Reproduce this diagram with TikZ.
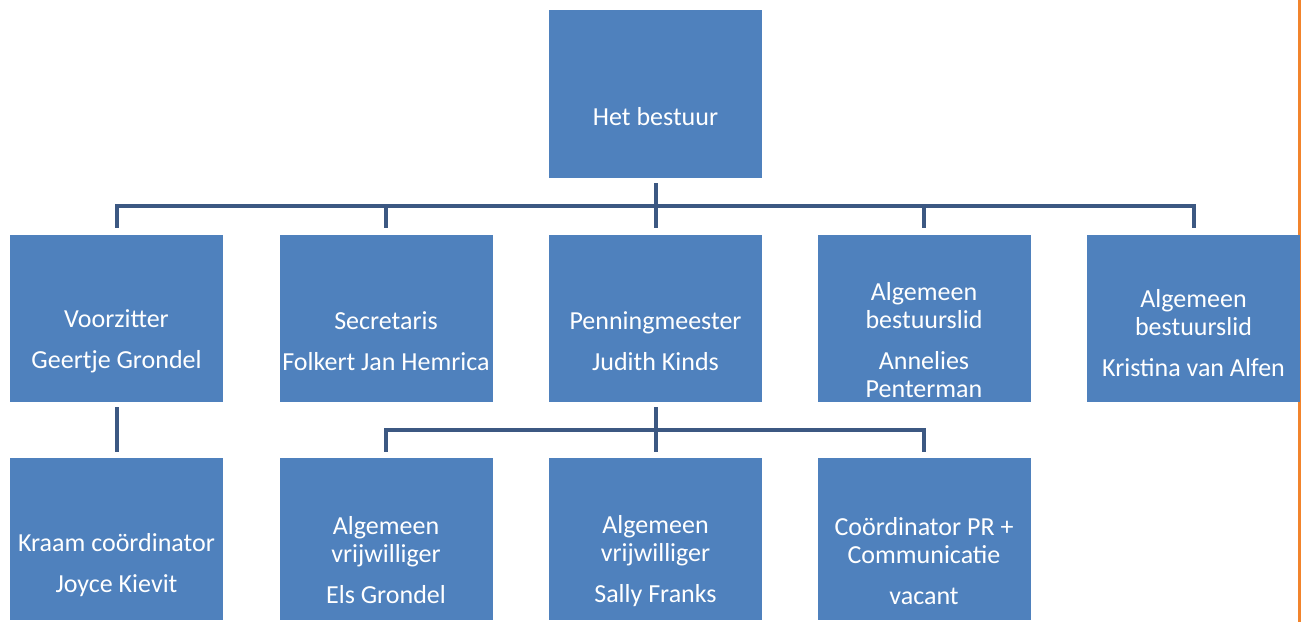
\documentclass[tikz,border=0pt]{standalone}
\usepackage{fontspec}
\setmainfont{Carlito}
\usetikzlibrary{calc}
\definecolor{boxblue}{RGB}{79,129,189}
\definecolor{linkblue}{RGB}{60,88,130}
\definecolor{edgeorange}{RGB}{242,132,44}
\begin{document}
\begin{tikzpicture}[x=1pt,y=-1pt,
  orgbox/.style={fill=boxblue, draw=none, inner sep=0pt, minimum width=213pt, minimum height=167pt},
  orgtext/.style={text=white, align=center, inner sep=0pt, font=\fontsize{26}{28}\selectfont},
  conn/.style={draw=linkblue, line width=4pt, line join=miter},
  rim/.style={draw=edgeorange, line width=3pt}]
\useasboundingbox (0,0) rectangle (1307,622);
% orange rim at the right edge
\coordinate (rimtop) at (1299.5,0);
\coordinate (rimbot) at (1299.5,622);
\draw[rim] (rimtop) -- (rimbot);

% boxes
\node[orgbox, minimum height=168pt] (top) at (655.5,94) {};
\node[orgbox] (b1) at (116.5,318.5) {};
\node[orgbox] (b2) at (386,318.5) {};
\node[orgbox] (b3) at (655.5,318.5) {};
\node[orgbox] (b4) at (924,318.5) {};
\node[orgbox] (b5) at (1193.5,318.5) {};
\node[orgbox, minimum height=162pt] (c1) at (116.5,539) {};
\node[orgbox, minimum height=162pt] (c2) at (386,539) {};
\node[orgbox, minimum height=162pt] (c3) at (655.5,539) {};
\node[orgbox, minimum height=162pt] (c4) at (924,539) {};

% texts
\node[orgtext] (ttop) at (655.5,117) {Het bestuur};
\node[orgtext] (tb1) at (116.5,341) {Voorzitter\\[13pt]Geertje Grondel};
\node[orgtext] (tb2) at (386,341) {Secretaris\\[13pt]Folkert Jan Hemrica};
\node[orgtext] (tb3) at (655.5,341) {Penningmeester\\[13pt]Judith Kinds};
\node[orgtext] (tb4) at (924,340) {Algemeen\\bestuurslid\\[13pt]Annelies\\Penterman};
\node[orgtext] (tb5) at (1193.5,333) {Algemeen\\bestuurslid\\[13pt]Kristina van Alfen};
\node[orgtext] (tc1) at (116.5,565) {Kraam coördinator\\[13pt]Joyce Kievit};
\node[orgtext] (tc2) at (386,560) {Algemeen\\vrijwilliger\\[13pt]Els Grondel};
\node[orgtext] (tc3) at (655.5,561) {Algemeen\\vrijwilliger\\[13pt]Sally Franks};
\node[orgtext] (tc4) at (924,561) {Coördinator PR +\\Communicatie\\[13pt]vacant};

% connectors: board level
\coordinate (bus1) at (655.5,206);
\draw[conn, shorten <=5pt] (top.south) -- (bus1);
\draw[conn, shorten <=7pt, shorten >=7pt] (b1.north) |- (bus1) -| (b5.north);
\draw[conn, shorten >=7pt] (bus1 -| b2.north) -- (b2.north);
\draw[conn, shorten >=7pt] (bus1 -| b3.north) -- (b3.north);
\draw[conn, shorten >=7pt] (bus1 -| b4.north) -- (b4.north);

% Voorzitter -> Kraam
\draw[conn, shorten <=5pt, shorten >=6pt] (b1.south) -- (c1.north);

% Penningmeester -> volunteers
\coordinate (bus2) at (655.5,430);
\draw[conn, shorten <=5pt] (b3.south) -- (bus2);
\draw[conn, shorten <=6pt, shorten >=6pt] (c2.north) |- (bus2) -| (c4.north);
\draw[conn, shorten >=6pt] (bus2 -| c3.north) -- (c3.north);
\end{tikzpicture}
\end{document}
